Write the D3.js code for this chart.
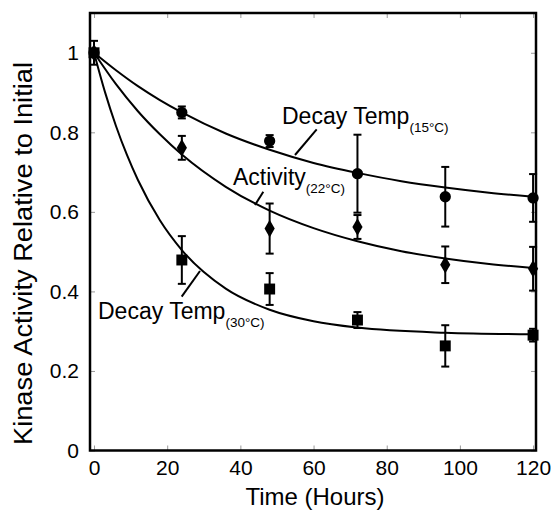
<!DOCTYPE html>
<html lang="en">
<head>
<meta charset="UTF-8">
<title>Kinase activity decay</title>
<script src="https://cdn.jsdelivr.net/npm/d3@7"></script>
<style>
  body { margin: 0; background: #fff; font-family: "Liberation Sans", Arial, sans-serif; }
  .tick line { stroke: #999; stroke-width: 1; }
  .domain { display: none; }
</style>
</head>
<body>
<svg id="chart" width="553" height="512"></svg>
<script>
// measured points (hours, relative activity, error)
const hours = [0, 24, 48, 72, 96, 120];
const temp15 = [1.0, 0.850, 0.778, 0.696, 0.638, 0.635];
const temp15Err = [0.0, 0.015, 0.015, 0.098, 0.075, 0.06];
const act22 = [1.0, 0.761, 0.558, 0.562, 0.467, 0.457];
const act22Err = [0.0, 0.03, 0.063, 0.03, 0.046, 0.055];
const temp30 = [1.0, 0.479, 0.406, 0.328, 0.263, 0.290];
const temp30Err = [0.03, 0.06, 0.04, 0.02, 0.052, 0.016];

// fitted curves
const fitHours15 = [0, 6, 12, 18, 24, 36, 48, 60, 72, 84, 96, 108, 120];
const fit15 = [1.0, 0.956, 0.916, 0.881, 0.850, 0.797, 0.756, 0.723, 0.698, 0.677, 0.661, 0.648, 0.638];
const fitHours22 = [0, 6, 12, 18, 24, 36, 48, 60, 72, 84, 96, 108, 120];
const fit22 = [1.0, 0.921, 0.853, 0.795, 0.744, 0.663, 0.603, 0.559, 0.526, 0.501, 0.483, 0.469, 0.459];
const fitHours30 = [0, 3, 6, 9, 12, 18, 24, 36, 48, 60, 72, 96, 120];
const fit30 = [1.0, 0.901, 0.816, 0.743, 0.680, 0.579, 0.504, 0.407, 0.354, 0.325, 0.309, 0.296, 0.292];

const xTicks = [0, 20, 40, 60, 80, 100, 120];
const yTicks = [0, 0.2, 0.4, 0.6, 0.8, 1];

const svg = d3.select("#chart");
const plotL = 90, plotR = 536, plotT = 13, plotB = 450.5;

const x = d3.scaleLinear().domain([-1.1, 120.8]).range([plotL, plotR]);
const y = d3.scaleLinear().domain([0, 1.1]).range([plotB, plotT]);

// ticks (inside, gray) on all four sides
svg.append("g").attr("transform", `translate(0,${plotB})`)
  .call(d3.axisBottom(x).tickValues(xTicks).tickSize(-5).tickPadding(10).tickFormat(d3.format("d")))
  .call(g => g.selectAll("text").attr("font-size", 21).attr("fill", "#000").attr("font-family", "Liberation Sans, Arial"));
svg.append("g").attr("transform", `translate(0,${plotT})`)
  .call(d3.axisTop(x).tickValues(xTicks).tickSize(-5).tickFormat(""));
svg.append("g").attr("transform", `translate(${plotL},0)`)
  .call(d3.axisLeft(y).tickValues(yTicks).tickSize(-5).tickPadding(11).tickFormat(d => d === 0 || d === 1 ? d : d3.format(".1f")(d)))
  .call(g => g.selectAll("text").attr("font-size", 21).attr("fill", "#000").attr("font-family", "Liberation Sans, Arial"));
svg.append("g").attr("transform", `translate(${plotR},0)`)
  .call(d3.axisRight(y).tickValues(yTicks).tickSize(-5).tickFormat(""));

// frame
svg.append("rect")
  .attr("x", plotL).attr("y", plotT)
  .attr("width", plotR - plotL).attr("height", plotB - plotT)
  .attr("fill", "none").attr("stroke", "#000").attr("stroke-width", 2.5);

// curves
const line = d3.line().x(d => x(d[0])).y(d => y(d[1])).curve(d3.curveMonotoneX);
[[fitHours15, fit15], [fitHours22, fit22], [fitHours30, fit30]].forEach(([hs, vs]) => {
  svg.append("path")
    .attr("d", line(d3.zip(hs, vs)))
    .attr("fill", "none").attr("stroke", "#000").attr("stroke-width", 2);
});

// error bars + markers
function drawSeries(vals, errs, shape) {
  const g = svg.append("g");
  hours.forEach((h, i) => {
    const e = errs[i];
    if (e > 0) {
      const cx = x(h), y1 = y(vals[i] + e), y2 = y(vals[i] - e);
      g.append("line").attr("x1", cx).attr("x2", cx).attr("y1", y1).attr("y2", y2)
        .attr("stroke", "#000").attr("stroke-width", 2);
      [y1, y2].forEach(yy => g.append("line")
        .attr("x1", cx - 4).attr("x2", cx + 4).attr("y1", yy).attr("y2", yy)
        .attr("stroke", "#000").attr("stroke-width", 2));
    }
  });
  g.selectAll("path.mark").data(hours.map((h, i) => [h, vals[i]])).enter()
    .append("path")
    .attr("transform", d => `translate(${x(d[0])},${y(d[1])})`)
    .attr("d", d3.symbol().type(shape.type).size(shape.size))
    .attr("fill", "#000");
}
drawSeries(temp15, temp15Err, { type: d3.symbolCircle, size: 100 });
drawSeries(act22, act22Err, { type: d3.symbolDiamond, size: 90 });
drawSeries(temp30, temp30Err, { type: d3.symbolSquare, size: 120 });

// curve labels with leader lines
function label(tx, ty, main, sub, lx1, ly1, lx2, ly2) {
  const t = svg.append("text").attr("x", tx).attr("y", ty)
    .attr("font-size", 23).attr("fill", "#000");
  t.append("tspan").text(main);
  t.append("tspan").attr("font-size", 13.5).attr("dy", 7.7).text(sub);
  svg.append("line").attr("x1", lx1).attr("y1", ly1).attr("x2", lx2).attr("y2", ly2)
    .attr("stroke", "#000").attr("stroke-width", 2);
}
label(282, 124, "Decay Temp", "(15°C)", 316.7, 129.3, 295, 155);
label(233, 185, "Activity", "(22°C)", 263.3, 191.7, 255, 205);
label(98, 319, "Decay Temp", "(30°C)", 181.7, 296.7, 200, 271);

// axis titles
svg.append("text").attr("x", 315).attr("y", 505).attr("text-anchor", "middle")
  .attr("font-size", 24).text("Time (Hours)");
svg.append("text").attr("transform", "translate(32,253.5) rotate(-90)").attr("text-anchor", "middle")
  .attr("font-size", 25.5).attr("textLength", 383).attr("lengthAdjust", "spacingAndGlyphs")
  .text("Kinase Activity Relative to Initial");
</script>
</body>
</html>
